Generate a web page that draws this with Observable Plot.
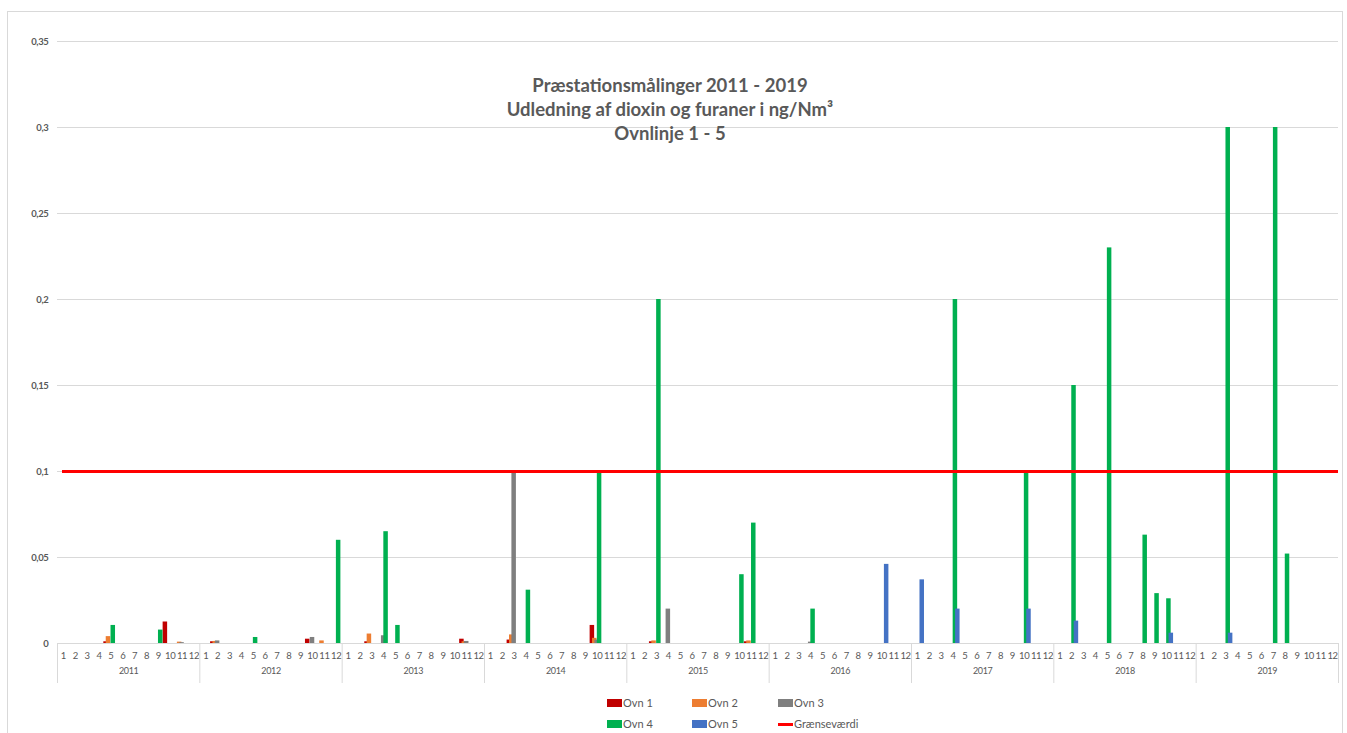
<!DOCTYPE html>
<html>
<head>
<meta charset="utf-8">
<script src="https://cdn.jsdelivr.net/npm/d3@7"></script>
<script src="https://cdn.jsdelivr.net/npm/@observablehq/plot@0.6"></script>
<style>
  body { margin: 0; background: #fff; font-family: Lato, "Open Sans", sans-serif; }
  #wrap { position: relative; width: 1347px; height: 733px; overflow: hidden; }
  #frame { position: absolute; left: 7px; top: 11px; width: 1334px; height: 760px; border: 1px solid #d9d9d9; pointer-events: none; }
  #title { position: absolute; left: 420px; width: 500px; top: 73px; text-align: center; color: #595959; font-weight: bold; font-size: 18.5px; line-height: 24px; }
  #chart svg text { letter-spacing: -0.35px; }
  .lg { position: absolute; font-size: 11px; color: #595959; height: 12px; line-height: 12px; }
  .sw { position: absolute; left: 0; top: 2px; width: 15px; height: 8px; }
  .ln { position: absolute; left: 0; top: 5px; width: 15px; height: 3px; }
  .lt { position: absolute; left: 16px; top: 0; white-space: nowrap; }
</style>
</head>
<body>
<div id="wrap">
  <div id="chart"></div>
  <div id="frame"></div>
  <div id="title">Præstationsmålinger 2011 - 2019<br>Udledning af dioxin og furaner i ng/Nm³<br>Ovnlinje 1 - 5</div>
  <div id="legend"></div>
</div>
<script>
// Categories
const years = [2011, 2012, 2013, 2014, 2015, 2016, 2017, 2018, 2019];
const months = [1, 2, 3, 4, 5, 6, 7, 8, 9, 10, 11, 12];
const yTicks = [0, 0.05, 0.1, 0.15, 0.2, 0.25, 0.3, 0.35];

// Series values: [year, month, value] (months not listed are empty)
const ovn1 = [[2011,5,0.001],[2011,10,0.0125],[2012,2,0.001],[2012,10,0.0025],[2013,3,0.001],[2013,11,0.0025],[2014,3,0.002],[2014,10,0.0105],[2015,3,0.001],[2015,11,0.001]];
const ovn2 = [[2011,5,0.004],[2011,11,0.0008],[2012,2,0.0012],[2012,11,0.0015],[2013,3,0.0055],[2013,11,0.001],[2014,3,0.005],[2014,10,0.003],[2015,3,0.0015],[2015,11,0.0015]];
const ovn3 = [[2011,11,0.0005],[2012,2,0.0015],[2012,10,0.0035],[2013,4,0.0045],[2013,11,0.0012],[2014,3,0.1],[2014,10,0.002],[2015,4,0.02],[2016,4,0.0008]];
const ovn4 = [[2011,5,0.0105],[2011,9,0.0078],[2012,5,0.0035],[2012,12,0.06],[2013,4,0.065],[2013,5,0.0105],[2014,4,0.031],[2014,10,0.1],[2015,3,0.2],[2015,10,0.04],[2015,11,0.07],[2016,4,0.02],[2017,4,0.2],[2017,10,0.1],[2018,2,0.15],[2018,5,0.23],[2018,8,0.063],[2018,9,0.029],[2018,10,0.026],[2019,3,0.3],[2019,7,0.3],[2019,8,0.052]];
const ovn5 = [[2016,10,0.046],[2017,1,0.037],[2017,4,0.02],[2017,10,0.02],[2018,2,0.013],[2018,10,0.006],[2019,3,0.006]];
const limit = 0.1;

const seriesNames = ["Ovn 1", "Ovn 2", "Ovn 3", "Ovn 4", "Ovn 5"];
const seriesData = [ovn1, ovn2, ovn3, ovn4, ovn5];
const colors = ["#c00000", "#ed7d31", "#7f7f7f", "#00b050", "#4472c4"];
const limitColor = "#ff0000";

const W = 1347, H = 692, mL = 57, mR = 9, mT = 41, mB = 49;
const nCat = years.length * months.length;
const band = (W - mL - mR) / nCat;
const barW = 4.5, step = 2.4;

const idx = (y, m) => (y - 2011) * 12 + (m - 1);
const cats = years.flatMap(y => months.map(m => ({y, m, i: idx(y, m)})));

const barMarks = seriesData.map((arr, s) => {
  const off = (s - 2) * step;
  const inset = (band - barW) / 2;
  return Plot.rectY(arr.map(([y, m, v]) => ({i: idx(y, m), v})), {
    x1: d => d.i, x2: d => d.i + 1, y1: 0, y2: d => d.v,
    fill: colors[s], insetLeft: inset + off, insetRight: inset - off
  });
});

const fmt = d => d === 0 ? "0" : String(+d.toFixed(2)).replace(".", ",");

const chart = Plot.plot({
  width: W, height: H,
  marginLeft: mL, marginRight: mR, marginTop: mT, marginBottom: mB,
  style: {fontFamily: "Lato, 'Open Sans', sans-serif", color: "#595959", background: "transparent"},
  x: {domain: [0, nCat], axis: null},
  y: {domain: [0, 0.35], axis: null},
  marks: [
    Plot.gridY(yTicks.filter(t => t > 0), {stroke: "#d9d9d9", strokeOpacity: 1}),
    Plot.axisY(yTicks, {tickSize: 0, tickPadding: 9, tickFormat: fmt, fontSize: 9.5, fontWeight: "bold", fill: "#595959"}),
    Plot.ruleY([0], {stroke: "#d9d9d9"}),
    Plot.axisX(cats.map(c => c.i + 0.5), {tickSize: 0, tickPadding: 9, tickFormat: v => String(cats[Math.floor(v)].m), fontSize: 9.5, fill: "#595959"}),
    Plot.axisX(d3.range(0, nCat + 1, 12), {tickSize: 40, stroke: "#d9d9d9", strokeOpacity: 1, tickFormat: () => ""}),
    Plot.text(years, {x: (d) => idx(d, 1) + 6, frameAnchor: "bottom", dy: 30, text: d => String(d), fontSize: 9, fill: "#595959"}),
    ...barMarks,
    Plot.ruleY([limit], {stroke: limitColor, strokeWidth: 3, insetLeft: 5})
  ]
});
document.getElementById("chart").appendChild(chart);

// Legend
const legendItems = [
  {name: seriesNames[0], color: colors[0], x: 607, y: 697},
  {name: seriesNames[1], color: colors[1], x: 692, y: 697},
  {name: seriesNames[2], color: colors[2], x: 778, y: 697},
  {name: seriesNames[3], color: colors[3], x: 607, y: 718},
  {name: seriesNames[4], color: colors[4], x: 692, y: 718},
  {name: "Grænseværdi", color: limitColor, x: 778, y: 718, line: true}
];
const lg = document.getElementById("legend");
for (const it of legendItems) {
  const d = document.createElement("div");
  d.className = "lg";
  d.style.left = it.x + "px";
  d.style.top = it.y + "px";
  d.innerHTML = `<div class="${it.line ? "ln" : "sw"}" style="background:${it.color}"></div><div class="lt">${it.name}</div>`;
  lg.appendChild(d);
}
</script>
</body>
</html>
